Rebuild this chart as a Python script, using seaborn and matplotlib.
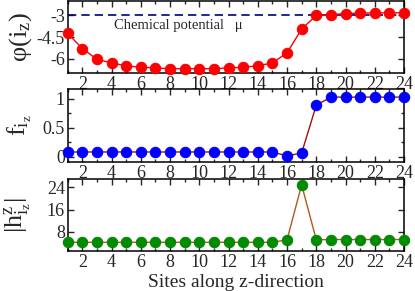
import numpy as np
import pandas as pd
import matplotlib
matplotlib.use('Agg')
import matplotlib.pyplot as plt
from matplotlib.ticker import MultipleLocator
import seaborn as sns

sns.set_style('ticks')
plt.rcParams['font.family'] = ['Liberation Serif', 'DejaVu Serif']
plt.rcParams['mathtext.fontset'] = 'custom'
plt.rcParams['mathtext.rm'] = 'Liberation Serif'
plt.rcParams['mathtext.it'] = 'Liberation Serif:italic'

# data
sites = list(range(1, 25))
phi = [-4.25, -5.3, -6.05, -6.3, -6.5, -6.6, -6.65, -6.7, -6.7, -6.7, -6.7, -6.65,
       -6.6, -6.5, -6.3, -5.6, -3.95, -3.0, -2.95, -2.87, -2.85, -2.82, -2.82, -2.82]
f_iz = [0.083] * 15 + [0.015, 0.065, 0.89, 1.03, 1.03, 1.03, 1.03, 1.03, 1.03]
h_iz = [4.3] * 15 + [5.2, 24.8, 5.2, 5.3, 5.3, 5.3, 5.3, 5.3, 5.3]
mu = -3.0

df = pd.DataFrame({'site': sites, 'phi': phi, 'f': f_iz, 'h': h_iz})

fig = plt.figure(figsize=(4.15, 2.91), dpi=100)
left, width = 67.7 / 415, (404 - 67.7) / 415
H = 291.0
ax1 = fig.add_axes([left, 1 - 73 / H, width, 72 / H])
ax2 = fig.add_axes([left, 1 - 162 / H, width, 73 / H])
ax3 = fig.add_axes([left, 1 - 251 / H, width, 72 / H])

ms = 7.5
sns.lineplot(data=df, x='site', y='phi', ax=ax1, color='#ff0000', lw=1.0,
             marker='o', markersize=ms, markerfacecolor='#ff0000',
             markeredgecolor='#ff0000', clip_on=False, zorder=3)
ax1.axhline(mu, color='#000080', lw=1.2, ls=(0, (5, 3)), zorder=2)
ax1.text(4.2, -3.7, 'Chemical potential   \u03bc', fontsize=10.5, va='center')

sns.lineplot(data=df, x='site', y='f', ax=ax2, color='#a01010', lw=1.0,
             marker='o', markersize=ms, markerfacecolor='#0000ff',
             markeredgecolor='#0000ff', clip_on=False, zorder=3)

sns.lineplot(data=df, x='site', y='h', ax=ax3, color='#b0581e', lw=1.0,
             marker='o', markersize=ms, markerfacecolor='#008b00',
             markeredgecolor='#008b00', clip_on=False, zorder=3)

ax1.set_ylim(-7, -2)
ax1.set_yticks([-6, -4.5, -3])
ax1.set_yticklabels(['-6', '-4.5', '-3'])
ax2.set_ylim(-0.09, 1.17)
ax2.set_yticks([0, 0.5, 1])
ax2.set_yticklabels(['0', '0.5', '1'])
ax2.yaxis.set_minor_locator(MultipleLocator(0.25))
ax3.set_ylim(1.2, 26.9)
ax3.set_yticks([8, 16, 24])

ylabels = ['\u03c6(i$_\\mathrm{z}$)', 'f$_{\\mathrm{i}_\\mathrm{z}}$',
           '|h$^\\mathrm{z}_{\\mathrm{i}_\\mathrm{z}}$|']
for ax, lab in zip([ax1, ax2, ax3], ylabels):
    ax.set_xlim(1, 24)
    ax.set_xticks(range(2, 25, 2))
    ax.xaxis.set_minor_locator(MultipleLocator(1))
    ax.tick_params(which='both', direction='in', top=True, right=True,
                   labelsize=13, width=1.0, pad=2)
    ax.tick_params(which='major', length=4.5)
    ax.tick_params(which='minor', length=2.5)
    for s in ax.spines.values():
        s.set_linewidth(1.1)
        s.set_color('black')
    ax.set_xlabel('')
    ax.set_ylabel(lab, fontsize=19)
    ax.yaxis.set_label_coords(-0.1, 0.5)

ax3.set_xlabel('Sites along z-direction', fontsize=14, labelpad=2)

fig.savefig('out.png', dpi=100)
plt.close()
